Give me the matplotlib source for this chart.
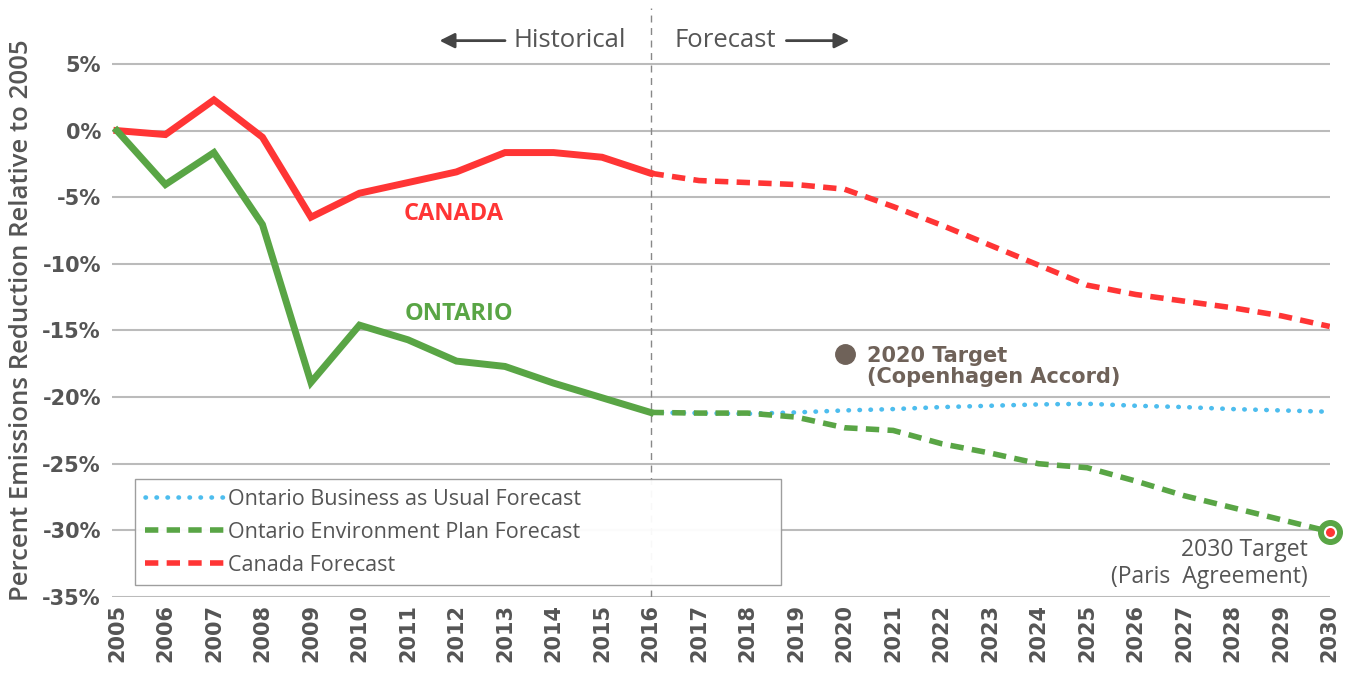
import numpy as np
import matplotlib
matplotlib.use('Agg')
import matplotlib.pyplot as plt

plt.rcParams['font.family'] = ['Open Sans', 'DejaVu Sans']

# historical data (% change relative to 2005)
years_hist = [2005, 2006, 2007, 2008, 2009, 2010, 2011, 2012, 2013, 2014, 2015, 2016]
canada_hist = [0.0, -0.3, 2.3, -0.5, -6.5, -4.7, -3.9, -3.1, -1.65, -1.65, -2.0, -3.2]
ontario_hist = [0.0, -4.05, -1.65, -7.05, -18.9, -14.6, -15.7, -17.3, -17.7, -18.95, -20.05, -21.15]

# forecasts
years_fc = [2016, 2017, 2018, 2019, 2020, 2021, 2022, 2023, 2024, 2025, 2026, 2027, 2028, 2029, 2030]
canada_fc = [-3.2, -3.75, -3.9, -4.05, -4.4, -5.7, -7.1, -8.6, -10.1, -11.6, -12.3, -12.8, -13.3, -13.9, -14.7]
ontario_bau = [-21.15, -21.2, -21.25, -21.15, -21.0, -20.9, -20.75, -20.65, -20.55, -20.5, -20.65, -20.75, -20.9, -21.0, -21.1]
ontario_plan = [-21.15, -21.2, -21.2, -21.5, -22.3, -22.5, -23.5, -24.2, -25.0, -25.3, -26.3, -27.4, -28.3, -29.2, -30.1]

target_2020 = (2020, -16.8)
target_2030 = (2030, -30.1)

yticks = [5, 0, -5, -10, -15, -20, -25, -30, -35]
xticks = list(range(2005, 2031))

RED = '#ff3535'
GREEN = '#59a545'
BLUE = '#4dbdee'
GREY = '#555555'
BROWN = '#6f6259'

fig = plt.figure(figsize=(13.5, 6.77), dpi=100)
ax = fig.add_axes([0.083, 0.1182, 0.902, 0.870])

ax.plot(years_hist, canada_hist, color=RED, lw=5, solid_joinstyle='miter', zorder=4)
ax.plot(years_hist, ontario_hist, color=GREEN, lw=5, solid_joinstyle='miter', zorder=4)

ax.plot(years_fc, ontario_bau, color=BLUE, lw=3.3, linestyle=(0, (0.1, 2.3)),
        dash_capstyle='round', label='Ontario Business as Usual Forecast', zorder=3)
ax.plot(years_fc, ontario_plan, color=GREEN, lw=4, linestyle=(0, (2.4, 1.5)),
        label='Ontario Environment Plan Forecast', zorder=3)
ax.plot(years_fc, canada_fc, color=RED, lw=4, linestyle=(0, (2.4, 1.5)),
        label='Canada Forecast', zorder=3)

# targets
ax.plot(*target_2020, 'o', color=BROWN, ms=14, zorder=5, clip_on=False)
ax.plot(*target_2030, 'o', color=GREEN, ms=17, zorder=5, clip_on=False)
ax.plot(*target_2030, 'o', color=RED, ms=8, mec='white', mew=1.5, zorder=6, clip_on=False)

ax.text(2020.47, -17.7, '2020 Target\n(Copenhagen Accord)', color=BROWN, fontsize=15,
        fontweight='semibold', family=['DejaVu Sans'], va='center', ha='left', linespacing=1.1)
ax.text(2029.55, -30.6, '2030 Target\n(Paris  Agreement)', color=GREY, fontsize=16.5,
        va='top', ha='right', ma='right', linespacing=1.12)

ax.text(2011.95, -6.25, 'CANADA', color=RED, fontsize=17, fontweight='bold', ha='center', va='center')
ax.text(2012.05, -13.8, 'ONTARIO', color=GREEN, fontsize=17, fontweight='bold', ha='center', va='center')

# historical / forecast divider
ax.axvline(2016, color='#888888', lw=1, linestyle=(0, (5, 4)), zorder=1)
ax.text(2015.5, 6.75, 'Historical', color=GREY, fontsize=18.5, ha='right', va='center')
ax.text(2016.5, 6.75, 'Forecast', color=GREY, fontsize=18.5, ha='left', va='center')
arrow = dict(arrowstyle='-|>,head_length=0.9,head_width=0.45', color='#444444', lw=2, shrinkA=0, shrinkB=0)
ax.annotate('', xy=(2011.65, 6.75), xytext=(2013.0, 6.75), arrowprops=arrow)
ax.annotate('', xy=(2020.1, 6.75), xytext=(2018.8, 6.75), arrowprops=arrow)

ax.set_xlim(2004.9, 2030)
ax.set_ylim(-35, 9.2)
ax.set_yticks(yticks)
ax.set_yticklabels([f'{v}%' for v in yticks])
ax.set_xticks(xticks)
ax.set_xticklabels([str(y) for y in xticks], rotation=90)
ax.grid(axis='y', color='#bbbbbb', lw=1.5)
ax.set_axisbelow(True)
for s in ax.spines.values():
    s.set_visible(False)
ax.tick_params(length=0, colors=GREY)
ax.tick_params(axis='y', labelsize=15, pad=8)
ax.tick_params(axis='x', labelsize=15, pad=5)
for lbl in ax.get_xticklabels() + ax.get_yticklabels():
    lbl.set_fontweight('bold')
    lbl.set_fontfamily(['DejaVu Sans'])

ax.set_ylabel('Percent Emissions Reduction Relative to 2005', fontsize=18.5, color=GREY,
              fontweight='semibold')
ax.yaxis.set_label_coords(-0.064, 0.47)

leg = ax.legend(loc='lower left', bbox_to_anchor=(0.019, 0.02, 0.530, 0.182), mode='expand',
                borderaxespad=0, fontsize=15.5, frameon=True, fancybox=False, handlelength=3.75,
                handletextpad=0.12, labelspacing=0.55, borderpad=0.45, labelcolor=GREY)
leg.get_frame().set_edgecolor('#999999')
leg.get_frame().set_linewidth(1)
leg.get_frame().set_alpha(0.95)

fig.savefig('out.png', dpi=100)
